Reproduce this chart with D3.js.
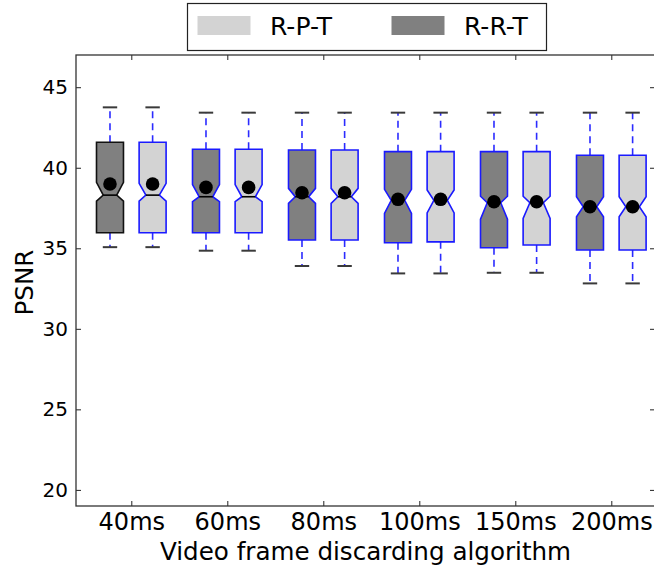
<!DOCTYPE html>
<html>
<head>
<meta charset="utf-8">
<script src="https://cdn.jsdelivr.net/npm/d3@7"></script>
<style>
  html, body { margin: 0; padding: 0; background: #fff; }
  svg { display: block; }
  text { font-family: "DejaVu Sans", sans-serif; fill: #000; }
</style>
</head>
<body>
<svg id="chart" width="654" height="568"></svg>
<script>
// ---- data ----
const categories = ["40ms", "60ms", "80ms", "100ms", "150ms", "200ms"];
const seriesNames = ["R-P-T", "R-R-T"];
const yTicks = [20, 25, 30, 35, 40, 45];

// R-R-T (dark boxes, left in each group)
const rrtCapHigh = [43.75, 43.42, 43.42, 43.42, 43.42, 43.42];
const rrtQ3      = [41.58, 41.15, 41.10, 41.00, 41.00, 40.78];
const rrtCiHigh  = [39.09, 38.95, 38.72, 38.66, 38.23, 38.20];
const rrtMedian  = [38.30, 38.20, 38.20, 37.98, 37.83, 37.58];
const rrtCiLow   = [37.93, 37.90, 37.79, 37.16, 36.81, 36.96];
const rrtQ1      = [35.96, 35.96, 35.51, 35.34, 35.03, 34.89];
const rrtCapLow  = [35.07, 34.85, 33.90, 33.44, 33.48, 32.82];
const rrtMean    = [38.99, 38.78, 38.45, 38.04, 37.89, 37.58];

// R-P-T (light boxes, right in each group)
const rptCapHigh = [43.75, 43.42, 43.42, 43.42, 43.42, 43.42];
const rptQ3      = [41.58, 41.15, 41.10, 41.00, 41.00, 40.78];
const rptCiHigh  = [39.03, 38.95, 38.72, 38.62, 38.23, 38.20];
const rptMedian  = [38.30, 38.20, 38.20, 37.98, 37.83, 37.58];
const rptCiLow   = [37.93, 37.90, 37.79, 37.20, 36.85, 36.96];
const rptQ1      = [35.96, 35.96, 35.51, 35.40, 35.20, 34.89];
const rptCapLow  = [35.07, 34.85, 33.90, 33.44, 33.48, 32.82];
const rptMean    = [38.99, 38.78, 38.45, 38.04, 37.89, 37.58];

// ---- layout ----
const svg = d3.select("#chart");
const plot = { left: 76, right: 655, top: 55, bottom: 506 };
const x = d3.scaleLinear().domain([1, 6]).range([131.3, 611.3]);
const y = d3.scaleLinear().domain([19, 47]).range([plot.bottom, plot.top]);

const offset = 0.222;   // box centre offset from category, in x units
const boxW = 0.281;     // full box width in x units
const capW = 0.15;

function buildSeries(name, fill, capHigh, q3, ciHigh, median, ciLow, q1, capLow, mean, dir) {
  return categories.map((c, i) => ({
    name, fill, i, pos: i + 1 + dir * offset,
    capHigh: capHigh[i], q3: q3[i], ciHigh: ciHigh[i], median: median[i],
    ciLow: ciLow[i], q1: q1[i], capLow: capLow[i], mean: mean[i]
  }));
}
const boxes = [
  ...buildSeries("R-R-T", "#808080", rrtCapHigh, rrtQ3, rrtCiHigh, rrtMedian, rrtCiLow, rrtQ1, rrtCapLow, rrtMean, -1),
  ...buildSeries("R-P-T", "#d3d3d3", rptCapHigh, rptQ3, rptCiHigh, rptMedian, rptCiLow, rptQ1, rptCapLow, rptMean, 1)
];

const g = svg.append("g");

// whiskers
boxes.forEach(b => {
  const cx = x(b.pos);
  [[b.q3, b.capHigh], [b.q1, b.capLow]].forEach(([a, e]) => {
    g.append("line")
      .attr("x1", cx).attr("x2", cx)
      .attr("y1", y(a)).attr("y2", y(e))
      .attr("stroke", "#2b2bff").attr("stroke-width", 1.6)
      .attr("stroke-dasharray", "7,5");
  });
  [b.capHigh, b.capLow].forEach(v => {
    g.append("line")
      .attr("x1", x(b.pos - capW / 2)).attr("x2", x(b.pos + capW / 2))
      .attr("y1", y(v)).attr("y2", y(v))
      .attr("stroke", "#3a3a3a").attr("stroke-width", 2);
  });
});

// notched boxes
boxes.forEach(b => {
  const xl = x(b.pos - boxW / 2), xr = x(b.pos + boxW / 2);
  const xil = x(b.pos - boxW / 4), xir = x(b.pos + boxW / 4);
  const pts = [
    [xl, y(b.q1)], [xr, y(b.q1)], [xr, y(b.ciLow)], [xir, y(b.median)],
    [xr, y(b.ciHigh)], [xr, y(b.q3)], [xl, y(b.q3)], [xl, y(b.ciHigh)],
    [xil, y(b.median)], [xl, y(b.ciLow)]
  ];
  const edge = (b.name === "R-R-T" && b.i === 0) ? "#111" : "#1a1aff";
  g.append("path")
    .attr("d", d3.line()(pts) + "Z")
    .attr("fill", b.fill)
    .attr("stroke", edge).attr("stroke-width", 1.6)
    .attr("stroke-linejoin", "miter");
  g.append("line")
    .attr("x1", xil).attr("x2", xir)
    .attr("y1", y(b.median)).attr("y2", y(b.median))
    .attr("stroke", "#000").attr("stroke-width", 1.6);
});

// means
boxes.forEach(b => {
  g.append("circle")
    .attr("cx", x(b.pos)).attr("cy", y(b.mean)).attr("r", 6.8)
    .attr("fill", "#000");
});

// axes (inward ticks)
const axisStyle = sel => {
  sel.select(".domain").remove();
  sel.selectAll(".tick line").attr("stroke", "#222").attr("stroke-width", 1);
};
svg.append("g").attr("transform", `translate(${plot.left},0)`)
  .call(d3.axisLeft(y).tickValues(yTicks).tickSize(-5).tickPadding(8))
  .call(axisStyle)
  .selectAll("text").style("font-size", "20px").style("font-family", "DejaVu Sans");
svg.append("g").attr("transform", `translate(${plot.right},0)`)
  .call(d3.axisRight(y).tickValues(yTicks).tickSize(-5).tickFormat(""))
  .call(axisStyle);
svg.append("g").attr("transform", `translate(0,${plot.bottom})`)
  .call(d3.axisBottom(x).tickValues(d3.range(1, 7)).tickFormat(d => categories[d - 1]).tickSize(-5).tickPadding(6.5))
  .call(axisStyle)
  .selectAll("text").style("font-size", "24px").style("font-family", "DejaVu Sans");
svg.append("g").attr("transform", `translate(0,${plot.top})`)
  .call(d3.axisTop(x).tickValues(d3.range(1, 7)).tickSize(-5).tickFormat(""))
  .call(axisStyle);

// frame
svg.append("rect")
  .attr("x", plot.left).attr("y", plot.top)
  .attr("width", plot.right - plot.left).attr("height", plot.bottom - plot.top)
  .attr("fill", "none").attr("stroke", "#333").attr("stroke-width", 1.3);

// axis labels
svg.append("text")
  .attr("x", (plot.left + plot.right) / 2).attr("y", 559.5)
  .attr("text-anchor", "middle").style("font-size", "24.6px")
  .text("Video frame discarding algorithm");
svg.append("text")
  .attr("transform", `translate(33,${(plot.top + plot.bottom) / 2 + 2}) rotate(-90)`)
  .attr("text-anchor", "middle").style("font-size", "24.6px")
  .text("PSNR");

// legend
const legend = svg.append("g");
legend.append("rect")
  .attr("x", 187.5).attr("y", 3.5).attr("width", 359).attr("height", 47)
  .attr("fill", "#fff").attr("stroke", "#222").attr("stroke-width", 1.2);
const legendItems = [
  { name: seriesNames[0], fill: "#d3d3d3", px: 197.5, tx: 270 },
  { name: seriesNames[1], fill: "#808080", px: 391.5, tx: 464 }
];
legendItems.forEach(it => {
  legend.append("rect")
    .attr("x", it.px).attr("y", 16).attr("width", 53).attr("height", 19)
    .attr("fill", it.fill);
  legend.append("text")
    .attr("x", it.tx).attr("y", 35)
    .style("font-size", "25px")
    .text(it.name);
});
</script>
</body>
</html>
